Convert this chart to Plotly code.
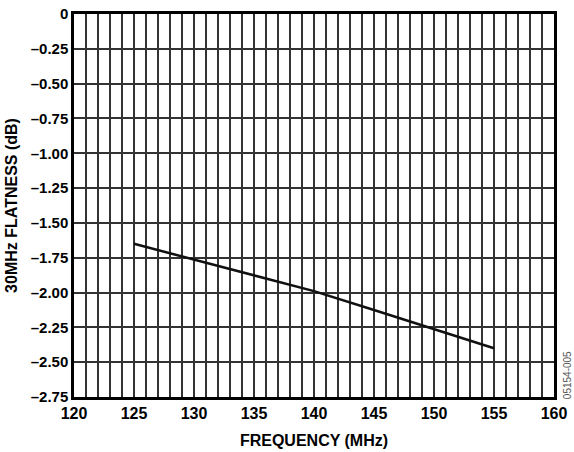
import plotly.graph_objects as go

freq = [125, 130, 135, 140, 145, 150, 155]
flatness = [-1.65, -1.765, -1.875, -1.99, -2.125, -2.26, -2.40]

x_ticks = [120, 125, 130, 135, 140, 145, 150, 155, 160]
y_ticks = [0, -0.25, -0.5, -0.75, -1.0, -1.25, -1.5, -1.75, -2.0, -2.25, -2.5, -2.75]
y_labels = ["0", "–0.25", "–0.50", "–0.75", "–1.00", "–1.25", "–1.50", "–1.75",
            "–2.00", "–2.25", "–2.50", "–2.75"]

font_fam = "Arial"

fig = go.Figure()
fig.add_trace(go.Scatter(x=freq, y=flatness, mode="lines",
                         line=dict(color="#111111", width=2.5),
                         showlegend=False))

fig.update_layout(
    width=574, height=452,
    margin=dict(l=74, r=20, t=14, b=55),
    paper_bgcolor="white", plot_bgcolor="white",
    font=dict(family=font_fam, size=13, color="black"),
    xaxis=dict(
        range=[120, 160], tickvals=x_ticks, ticktext=["<b>%d</b>" % v for v in x_ticks],
        showgrid=True, gridcolor="#333333", gridwidth=2,
        minor=dict(dtick=1, showgrid=True, gridcolor="#333333", gridwidth=2, tick0=120),
        showline=True, linecolor="black", linewidth=2.5, mirror=True,
        ticks="", zeroline=False, automargin=False,
        tickfont=dict(family=font_fam, size=16, color="black"),
        title=dict(text="<b>FREQUENCY (MHz)</b>", font=dict(family=font_fam, size=16), standoff=14),
    ),
    yaxis=dict(
        range=[-2.75, 0], tickvals=y_ticks, ticktext=["<b>%s</b>" % s for s in y_labels],
        showgrid=True, gridcolor="#333333", gridwidth=2,
        showline=True, linecolor="black", linewidth=2.5, mirror=True,
        ticks="", zeroline=False, automargin=False,
        tickfont=dict(family=font_fam, size=15, color="black"),
        title=dict(text="<b>30MHz FLATNESS (dB)</b>", font=dict(family=font_fam, size=16), standoff=10),
    ),
)

fig.add_annotation(text="05154-005", x=1.0, xref="paper", xanchor="center", xshift=13,
                   y=0.057, yref="paper", yanchor="middle",
                   showarrow=False, textangle=-90,
                   font=dict(family=font_fam, size=10, color="#555555"))

fig.write_html("out.html")
